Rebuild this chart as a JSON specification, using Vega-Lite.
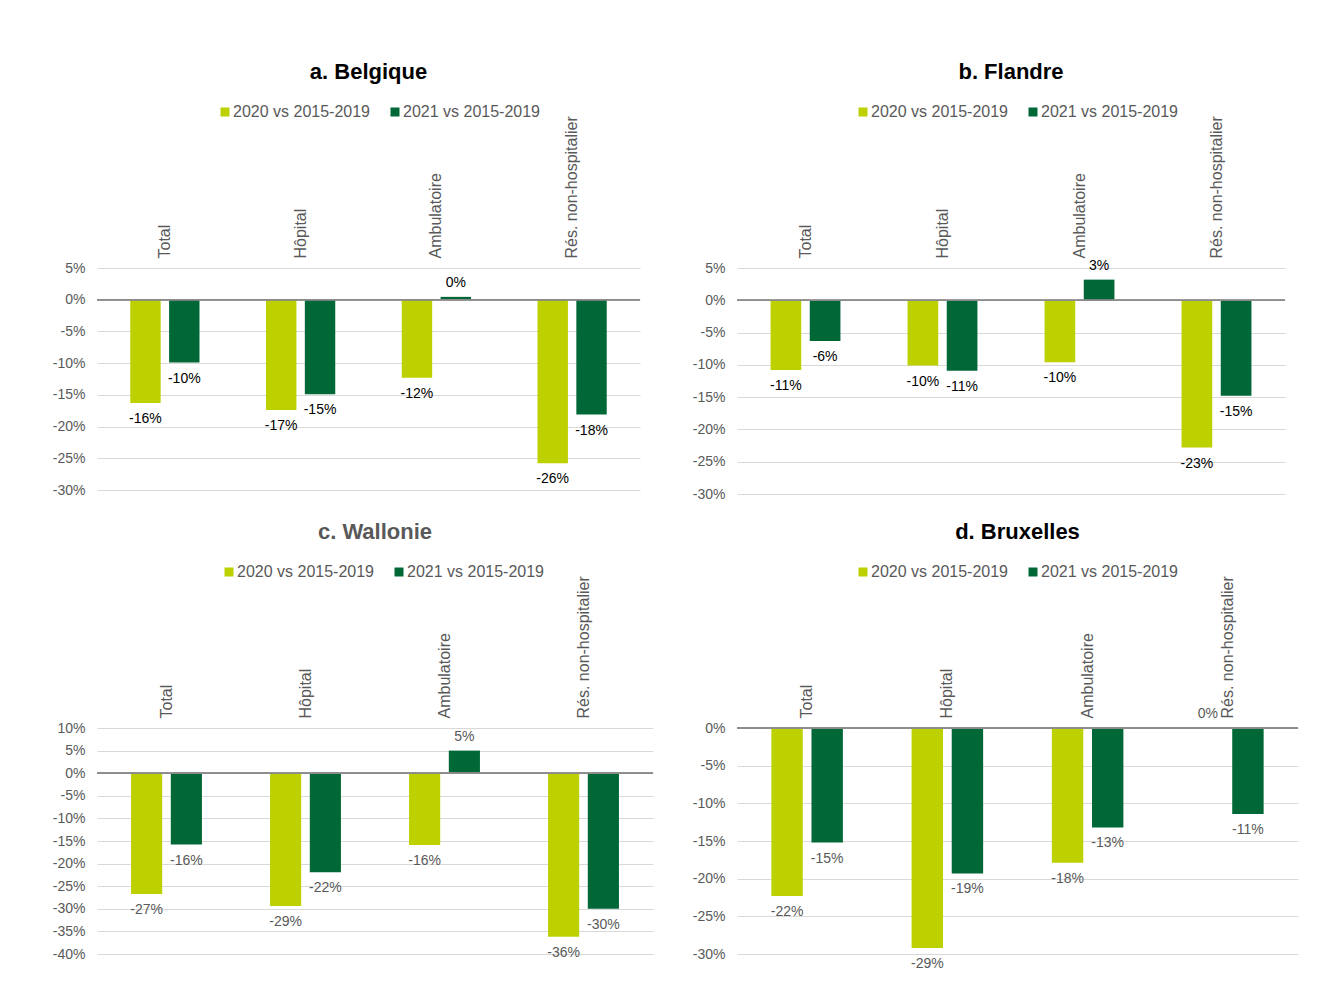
{
  "$schema": "https://vega.github.io/schema/vega-lite/v6.json",
  "padding": {"left": 52, "top": 61, "right": 5, "bottom": 5},
  "background": "#ffffff",
  "datasets": {
    "d": [
      {"region": "Belgique", "cat": "Total", "series": "2020 vs 2015-2019", "v": -0.163},
      {"region": "Belgique", "cat": "Total", "series": "2021 vs 2015-2019", "v": -0.099},
      {"region": "Belgique", "cat": "Hôpital", "series": "2020 vs 2015-2019", "v": -0.174},
      {"region": "Belgique", "cat": "Hôpital", "series": "2021 vs 2015-2019", "v": -0.149},
      {"region": "Belgique", "cat": "Ambulatoire", "series": "2020 vs 2015-2019", "v": -0.123},
      {"region": "Belgique", "cat": "Ambulatoire", "series": "2021 vs 2015-2019", "v": 0.0045},
      {"region": "Belgique", "cat": "Rés. non-hospitalier", "series": "2020 vs 2015-2019", "v": -0.258},
      {"region": "Belgique", "cat": "Rés. non-hospitalier", "series": "2021 vs 2015-2019", "v": -0.181},
      {"region": "Flandre", "cat": "Total", "series": "2020 vs 2015-2019", "v": -0.108},
      {"region": "Flandre", "cat": "Total", "series": "2021 vs 2015-2019", "v": -0.063},
      {"region": "Flandre", "cat": "Hôpital", "series": "2020 vs 2015-2019", "v": -0.101},
      {"region": "Flandre", "cat": "Hôpital", "series": "2021 vs 2015-2019", "v": -0.109},
      {"region": "Flandre", "cat": "Ambulatoire", "series": "2020 vs 2015-2019", "v": -0.096},
      {"region": "Flandre", "cat": "Ambulatoire", "series": "2021 vs 2015-2019", "v": 0.032},
      {"region": "Flandre", "cat": "Rés. non-hospitalier", "series": "2020 vs 2015-2019", "v": -0.228},
      {"region": "Flandre", "cat": "Rés. non-hospitalier", "series": "2021 vs 2015-2019", "v": -0.148},
      {"region": "Wallonie", "cat": "Total", "series": "2020 vs 2015-2019", "v": -0.267},
      {"region": "Wallonie", "cat": "Total", "series": "2021 vs 2015-2019", "v": -0.158},
      {"region": "Wallonie", "cat": "Hôpital", "series": "2020 vs 2015-2019", "v": -0.294},
      {"region": "Wallonie", "cat": "Hôpital", "series": "2021 vs 2015-2019", "v": -0.219},
      {"region": "Wallonie", "cat": "Ambulatoire", "series": "2020 vs 2015-2019", "v": -0.159},
      {"region": "Wallonie", "cat": "Ambulatoire", "series": "2021 vs 2015-2019", "v": 0.05},
      {"region": "Wallonie", "cat": "Rés. non-hospitalier", "series": "2020 vs 2015-2019", "v": -0.362},
      {"region": "Wallonie", "cat": "Rés. non-hospitalier", "series": "2021 vs 2015-2019", "v": -0.3},
      {"region": "Bruxelles", "cat": "Total", "series": "2020 vs 2015-2019", "v": -0.223},
      {"region": "Bruxelles", "cat": "Total", "series": "2021 vs 2015-2019", "v": -0.152},
      {"region": "Bruxelles", "cat": "Hôpital", "series": "2020 vs 2015-2019", "v": -0.292},
      {"region": "Bruxelles", "cat": "Hôpital", "series": "2021 vs 2015-2019", "v": -0.193},
      {"region": "Bruxelles", "cat": "Ambulatoire", "series": "2020 vs 2015-2019", "v": -0.179},
      {"region": "Bruxelles", "cat": "Ambulatoire", "series": "2021 vs 2015-2019", "v": -0.132},
      {"region": "Bruxelles", "cat": "Rés. non-hospitalier", "series": "2020 vs 2015-2019", "v": 0},
      {"region": "Bruxelles", "cat": "Rés. non-hospitalier", "series": "2021 vs 2015-2019", "v": -0.114}
    ]
  },
  "data": {"name": "d"},
  "bounds": "flush",
  "columns": 2,
  "spacing": {"row": 234, "column": 84},
  "resolve": {"scale": {"x": "independent", "y": "independent", "xOffset": "independent", "color": "independent"}, "legend": {"color": "independent"}, "axis": {"x": "independent", "y": "independent"}},
  "concat": [
    {
      "width": 543, "height": 222,
      "title": {"text": "a. Belgique", "color": "#000000"},
      "transform": [{"filter": "datum.region === 'Belgique'"}],
      "layer": [
        {
          "mark": {"type": "bar"},
          "encoding": {
            "x": {"field": "cat", "type": "nominal", "sort": ["Total", "Hôpital", "Ambulatoire", "Rés. non-hospitalier"], "scale": {"paddingInner": 0.49, "paddingOuter": 0.245}, "axis": {"orient": "top", "labelAngle": -90, "labelAlign": "left", "labelBaseline": "middle"}},
            "y": {"field": "v", "type": "quantitative", "scale": {"domain": [-0.3, 0.05], "nice": false, "zero": false}, "axis": {"values": [0.05, 0, -0.05, -0.1, -0.15, -0.2, -0.25, -0.3], "format": ".0%"}},
            "xOffset": {"field": "series", "type": "nominal", "scale": {"paddingInner": 0.217, "paddingOuter": 0}},
            "color": {"field": "series", "type": "nominal", "scale": {"domain": ["2020 vs 2015-2019", "2021 vs 2015-2019"], "range": ["#BDD000", "#006837"]}, "legend": {"orient": "none", "legendX": 120, "legendY": -164, "direction": "horizontal"}}
          }
        },
        {
          "transform": [{"filter": "datum.v < 0"}],
          "mark": {"type": "text", "baseline": "middle", "dy": 16, "fontSize": 14, "color": "#000000"},
          "encoding": {
            "x": {"field": "cat", "type": "nominal", "sort": ["Total", "Hôpital", "Ambulatoire", "Rés. non-hospitalier"]},
            "y": {"field": "v", "type": "quantitative", "axis": {"values": [0.05, 0, -0.05, -0.1, -0.15, -0.2, -0.25, -0.3], "format": ".0%"}},
            "xOffset": {"field": "series", "type": "nominal"},
            "text": {"field": "v", "type": "quantitative", "format": ".0%"}
          }
        },
        {
          "transform": [{"filter": "datum.v >= 0"}],
          "mark": {"type": "text", "baseline": "middle", "dy": -14, "fontSize": 14, "color": "#000000"},
          "encoding": {
            "x": {"field": "cat", "type": "nominal", "sort": ["Total", "Hôpital", "Ambulatoire", "Rés. non-hospitalier"]},
            "y": {"field": "v", "type": "quantitative", "axis": {"values": [0.05, 0, -0.05, -0.1, -0.15, -0.2, -0.25, -0.3], "format": ".0%"}},
            "xOffset": {"field": "series", "type": "nominal"},
            "text": {"field": "v", "type": "quantitative", "format": ".0%"}
          }
        },
        {
          "mark": {"type": "rule", "color": "#8c8c8c", "strokeWidth": 1},
          "encoding": {"y": {"datum": 0, "axis": {"values": [0.05, 0, -0.05, -0.1, -0.15, -0.2, -0.25, -0.3], "format": ".0%"}}}
        }
      ]
    },
    {
      "width": 548, "height": 226,
      "title": {"text": "b. Flandre", "color": "#000000"},
      "transform": [{"filter": "datum.region === 'Flandre'"}],
      "layer": [
        {
          "mark": {"type": "bar"},
          "encoding": {
            "x": {"field": "cat", "type": "nominal", "sort": ["Total", "Hôpital", "Ambulatoire", "Rés. non-hospitalier"], "scale": {"paddingInner": 0.49, "paddingOuter": 0.245}, "axis": {"orient": "top", "labelAngle": -90, "labelAlign": "left", "labelBaseline": "middle"}},
            "y": {"field": "v", "type": "quantitative", "scale": {"domain": [-0.3, 0.05], "nice": false, "zero": false}, "axis": {"values": [0.05, 0, -0.05, -0.1, -0.15, -0.2, -0.25, -0.3], "format": ".0%"}},
            "xOffset": {"field": "series", "type": "nominal", "scale": {"paddingInner": 0.217, "paddingOuter": 0}},
            "color": {"field": "series", "type": "nominal", "scale": {"domain": ["2020 vs 2015-2019", "2021 vs 2015-2019"], "range": ["#BDD000", "#006837"]}, "legend": {"orient": "none", "legendX": 118, "legendY": -164, "direction": "horizontal"}}
          }
        },
        {
          "transform": [{"filter": "datum.v < 0"}],
          "mark": {"type": "text", "baseline": "middle", "dy": 16, "fontSize": 14, "color": "#000000"},
          "encoding": {
            "x": {"field": "cat", "type": "nominal", "sort": ["Total", "Hôpital", "Ambulatoire", "Rés. non-hospitalier"]},
            "y": {"field": "v", "type": "quantitative", "axis": {"values": [0.05, 0, -0.05, -0.1, -0.15, -0.2, -0.25, -0.3], "format": ".0%"}},
            "xOffset": {"field": "series", "type": "nominal"},
            "text": {"field": "v", "type": "quantitative", "format": ".0%"}
          }
        },
        {
          "transform": [{"filter": "datum.v >= 0"}],
          "mark": {"type": "text", "baseline": "middle", "dy": -14, "fontSize": 14, "color": "#000000"},
          "encoding": {
            "x": {"field": "cat", "type": "nominal", "sort": ["Total", "Hôpital", "Ambulatoire", "Rés. non-hospitalier"]},
            "y": {"field": "v", "type": "quantitative", "axis": {"values": [0.05, 0, -0.05, -0.1, -0.15, -0.2, -0.25, -0.3], "format": ".0%"}},
            "xOffset": {"field": "series", "type": "nominal"},
            "text": {"field": "v", "type": "quantitative", "format": ".0%"}
          }
        },
        {
          "mark": {"type": "rule", "color": "#8c8c8c", "strokeWidth": 1},
          "encoding": {"y": {"datum": 0, "axis": {"values": [0.05, 0, -0.05, -0.1, -0.15, -0.2, -0.25, -0.3], "format": ".0%"}}}
        }
      ]
    },
    {
      "width": 556, "height": 226,
      "title": {"text": "c. Wallonie", "color": "#595959"},
      "transform": [{"filter": "datum.region === 'Wallonie'"}],
      "layer": [
        {
          "mark": {"type": "bar"},
          "encoding": {
            "x": {"field": "cat", "type": "nominal", "sort": ["Total", "Hôpital", "Ambulatoire", "Rés. non-hospitalier"], "scale": {"paddingInner": 0.49, "paddingOuter": 0.245}, "axis": {"orient": "top", "labelAngle": -90, "labelAlign": "left", "labelBaseline": "middle"}},
            "y": {"field": "v", "type": "quantitative", "scale": {"domain": [-0.4, 0.1], "nice": false, "zero": false}, "axis": {"values": [0.1, 0.05, 0, -0.05, -0.1, -0.15, -0.2, -0.25, -0.3, -0.35, -0.4], "format": ".0%"}},
            "xOffset": {"field": "series", "type": "nominal", "scale": {"paddingInner": 0.217, "paddingOuter": 0}},
            "color": {"field": "series", "type": "nominal", "scale": {"domain": ["2020 vs 2015-2019", "2021 vs 2015-2019"], "range": ["#BDD000", "#006837"]}, "legend": {"orient": "none", "legendX": 124, "legendY": -164, "direction": "horizontal"}}
          }
        },
        {
          "transform": [{"filter": "datum.v < 0"}],
          "mark": {"type": "text", "baseline": "middle", "dy": 16, "fontSize": 14, "color": "#595959"},
          "encoding": {
            "x": {"field": "cat", "type": "nominal", "sort": ["Total", "Hôpital", "Ambulatoire", "Rés. non-hospitalier"]},
            "y": {"field": "v", "type": "quantitative", "axis": {"values": [0.1, 0.05, 0, -0.05, -0.1, -0.15, -0.2, -0.25, -0.3, -0.35, -0.4], "format": ".0%"}},
            "xOffset": {"field": "series", "type": "nominal"},
            "text": {"field": "v", "type": "quantitative", "format": ".0%"}
          }
        },
        {
          "transform": [{"filter": "datum.v >= 0"}],
          "mark": {"type": "text", "baseline": "middle", "dy": -14, "fontSize": 14, "color": "#595959"},
          "encoding": {
            "x": {"field": "cat", "type": "nominal", "sort": ["Total", "Hôpital", "Ambulatoire", "Rés. non-hospitalier"]},
            "y": {"field": "v", "type": "quantitative", "axis": {"values": [0.1, 0.05, 0, -0.05, -0.1, -0.15, -0.2, -0.25, -0.3, -0.35, -0.4], "format": ".0%"}},
            "xOffset": {"field": "series", "type": "nominal"},
            "text": {"field": "v", "type": "quantitative", "format": ".0%"}
          }
        },
        {
          "mark": {"type": "rule", "color": "#8c8c8c", "strokeWidth": 1},
          "encoding": {"y": {"datum": 0, "axis": {"values": [0.1, 0.05, 0, -0.05, -0.1, -0.15, -0.2, -0.25, -0.3, -0.35, -0.4], "format": ".0%"}}}
        }
      ]
    },
    {
      "width": 561, "height": 226,
      "title": {"text": "d. Bruxelles", "color": "#000000"},
      "transform": [{"filter": "datum.region === 'Bruxelles'"}],
      "layer": [
        {
          "mark": {"type": "bar"},
          "encoding": {
            "x": {"field": "cat", "type": "nominal", "sort": ["Total", "Hôpital", "Ambulatoire", "Rés. non-hospitalier"], "scale": {"paddingInner": 0.49, "paddingOuter": 0.245}, "axis": {"orient": "top", "labelAngle": -90, "labelAlign": "left", "labelBaseline": "middle"}},
            "y": {"field": "v", "type": "quantitative", "scale": {"domain": [-0.3, 0], "nice": false, "zero": false}, "axis": {"values": [0, -0.05, -0.1, -0.15, -0.2, -0.25, -0.3], "format": ".0%"}},
            "xOffset": {"field": "series", "type": "nominal", "scale": {"paddingInner": 0.217, "paddingOuter": 0}},
            "color": {"field": "series", "type": "nominal", "scale": {"domain": ["2020 vs 2015-2019", "2021 vs 2015-2019"], "range": ["#BDD000", "#006837"]}, "legend": {"orient": "none", "legendX": 118, "legendY": -164, "direction": "horizontal"}}
          }
        },
        {
          "transform": [{"filter": "datum.v < 0"}],
          "mark": {"type": "text", "baseline": "middle", "dy": 16, "fontSize": 14, "color": "#595959"},
          "encoding": {
            "x": {"field": "cat", "type": "nominal", "sort": ["Total", "Hôpital", "Ambulatoire", "Rés. non-hospitalier"]},
            "y": {"field": "v", "type": "quantitative", "axis": {"values": [0, -0.05, -0.1, -0.15, -0.2, -0.25, -0.3], "format": ".0%"}},
            "xOffset": {"field": "series", "type": "nominal"},
            "text": {"field": "v", "type": "quantitative", "format": ".0%"}
          }
        },
        {
          "transform": [{"filter": "datum.v >= 0"}],
          "mark": {"type": "text", "baseline": "middle", "dy": -14, "fontSize": 14, "color": "#595959"},
          "encoding": {
            "x": {"field": "cat", "type": "nominal", "sort": ["Total", "Hôpital", "Ambulatoire", "Rés. non-hospitalier"]},
            "y": {"field": "v", "type": "quantitative", "axis": {"values": [0, -0.05, -0.1, -0.15, -0.2, -0.25, -0.3], "format": ".0%"}},
            "xOffset": {"field": "series", "type": "nominal"},
            "text": {"field": "v", "type": "quantitative", "format": ".0%"}
          }
        },
        {
          "mark": {"type": "rule", "color": "#8c8c8c", "strokeWidth": 1},
          "encoding": {"y": {"datum": 0, "axis": {"values": [0, -0.05, -0.1, -0.15, -0.2, -0.25, -0.3], "format": ".0%"}}}
        }
      ]
    }
  ],
  "config": {
    "font": "Liberation Sans",
    "view": {"stroke": null},
    "locale": {"number": {"decimal": ".", "thousands": ",", "grouping": [3], "currency": ["", ""], "minus": "-"}},
    "axis": {"labelColor": "#595959", "domain": false, "ticks": false, "title": null},
    "axisY": {"labelFontSize": 14, "grid": true, "gridColor": "#d9d9d9", "labelPadding": 12},
    "axisX": {"labelFontSize": 16, "grid": false, "labelPadding": 10},
    "legend": {"title": null, "symbolType": "square", "symbolSize": 81, "symbolStrokeWidth": 0, "labelFontSize": 16, "labelColor": "#595959", "columnPadding": 17, "labelOffset": 0},
    "title": {"fontSize": 22, "fontWeight": "bold", "anchor": "middle", "offset": 20}
  }
}
